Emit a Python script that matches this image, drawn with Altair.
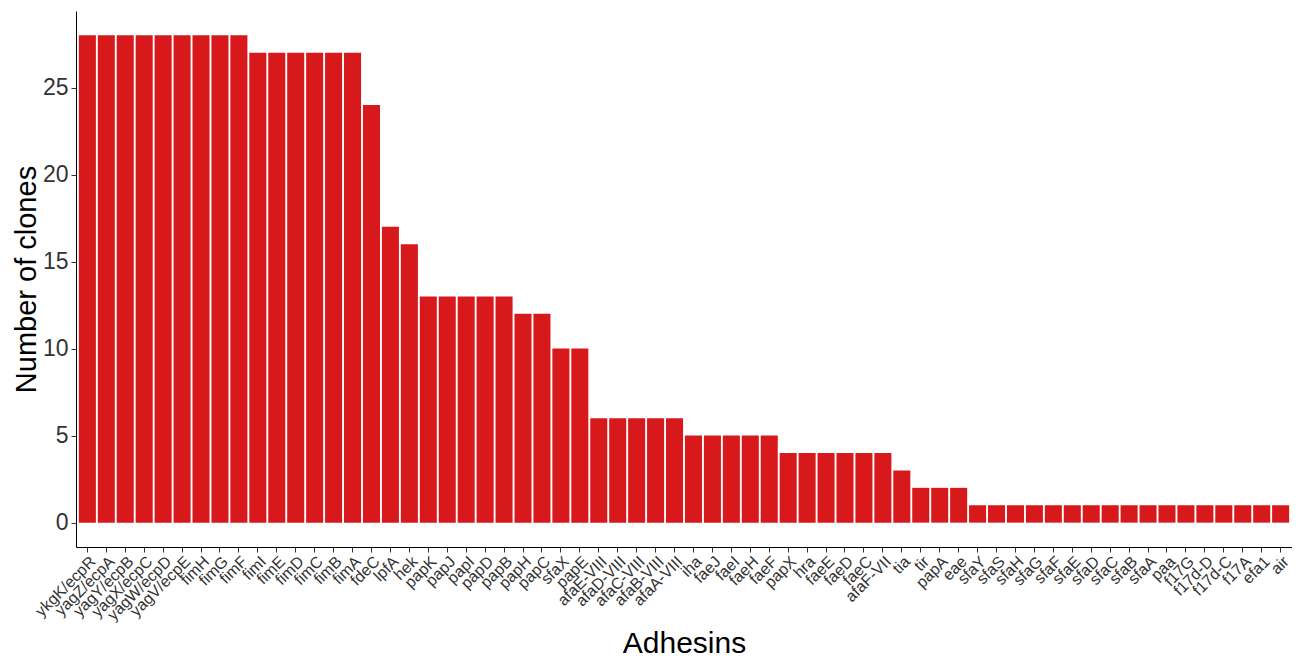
import altair as alt
import pandas as pd

genes = ["ykgK/ecpR", "yagZ/ecpA", "yagY/ecpB", "yagX/ecpC", "yagW/ecpD", "yagV/ecpE",
         "fimH", "fimG", "fimF", "fimI", "fimE", "fimD", "fimC", "fimB", "fimA",
         "fdeC", "lpfA", "hek", "papK", "papJ", "papI", "papD", "papB", "papH", "papC",
         "sfaX", "papE", "afaE-VIII", "afaD-VIII", "afaC-VIII", "afaB-VIII", "afaA-VIII",
         "iha", "faeJ", "faeI", "faeH", "faeF", "papX", "hra", "faeE", "faeD", "faeC",
         "afaF-VII", "tia", "tir", "papA", "eae", "sfaY", "sfaS", "sfaH", "sfaG", "sfaF",
         "sfaE", "sfaD", "sfaC", "sfaB", "sfaA", "paa", "f17G", "f17d-D", "f17d-C",
         "f17A", "efa1", "air"]
clones = [28, 28, 28, 28, 28, 28,
          28, 28, 28, 27, 27, 27, 27, 27, 27,
          24, 17, 16, 13, 13, 13, 13, 13, 12, 12,
          10, 10, 6, 6, 6, 6, 6,
          5, 5, 5, 5, 5, 4, 4, 4, 4, 4,
          4, 3, 2, 2, 2, 1, 1, 1, 1, 1,
          1, 1, 1, 1, 1, 1, 1, 1, 1,
          1, 1, 1]

df = pd.DataFrame({"gene": genes, "clones": clones})

font = "Liberation Sans"

chart = alt.Chart(df).mark_bar(color="#D7191C").encode(
    x=alt.X("gene:N", sort=genes,
            scale=alt.Scale(paddingInner=0.1, paddingOuter=0.15),
            axis=alt.Axis(title="Adhesins", labelAngle=-45, labelAlign="right",
                          labelBaseline="top", labelFontSize=16, labelOverlap=False,
                          labelPadding=1, labelColor="#333333",
                          titleFontSize=30, titleFontWeight="normal", titlePadding=6,
                          titleColor="black", labelFont=font, titleFont=font,
                          domainColor="black", tickColor="#333333", tickSize=5)),
    y=alt.Y("clones:Q",
            scale=alt.Scale(domain=[-1.4, 29.4], nice=False, zero=False),
            axis=alt.Axis(title="Number of clones", values=[0, 5, 10, 15, 20, 25],
                          grid=False, labelFontSize=23, labelColor="#333333",
                          titleFontSize=29, titleFontWeight="normal", titlePadding=1,
                          titleColor="black", labelFont=font, titleFont=font,
                          domainColor="black", tickColor="#333333", tickSize=5,
                          labelPadding=3)),
    y2=alt.datum(0),
).properties(
    width=1216, height=536,
    padding={"left": 4, "top": 3, "right": 0, "bottom": 0},
).configure(background="white").configure_view(stroke=None)

chart.save("out.html", embed_options={"renderer": "svg", "actions": False})
